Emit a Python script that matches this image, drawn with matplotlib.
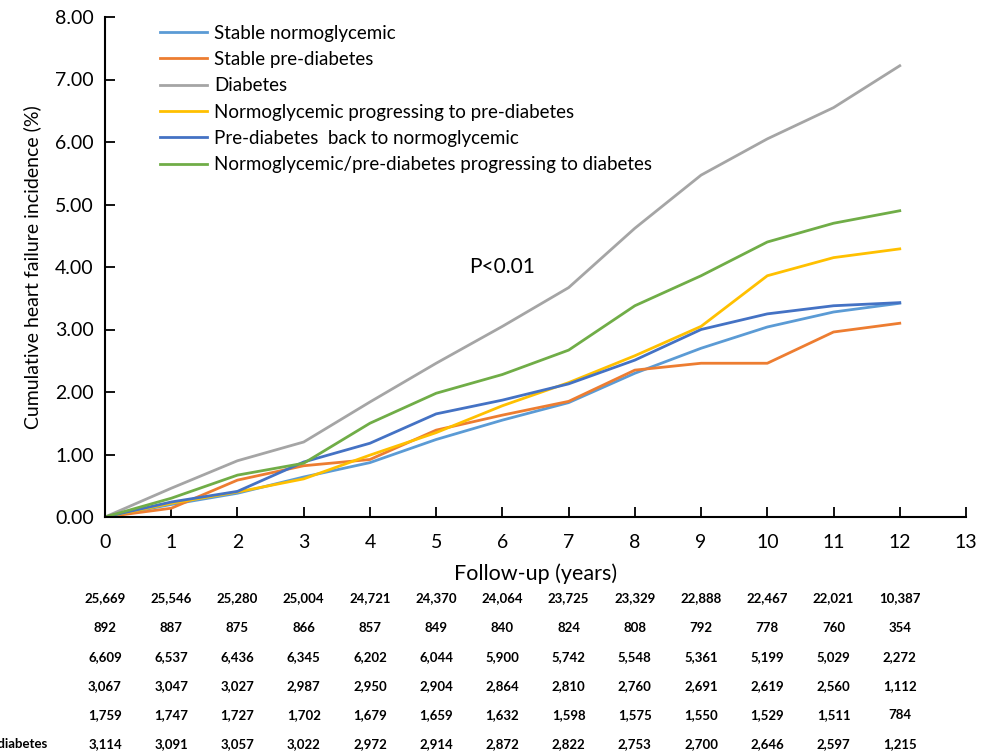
import numpy as np
import matplotlib
matplotlib.use("Agg")
from matplotlib import pyplot as plt
from matplotlib import transforms

plt.rcParams['font.family'] = ['Lato', 'DejaVu Sans']

years = list(range(13))
groups = ["Stable normoglycemic",
          "Stable pre-diabetes",
          "Diabetes",
          "Normoglycemic progressing to pre-diabetes",
          "Pre-diabetes  back to normoglycemic",
          "Normoglycemic/pre-diabetes progressing to diabetes"]
colors = ['#5B9BD5', '#ED7D31', '#A5A5A5', '#FFC000', '#4472C4', '#70AD47']

stable_normo = [0, 0.20, 0.38, 0.64, 0.87, 1.24, 1.55, 1.83, 2.30, 2.70, 3.04, 3.28, 3.42]
stable_pre = [0, 0.14, 0.59, 0.82, 0.92, 1.39, 1.63, 1.85, 2.35, 2.46, 2.46, 2.96, 3.10]
diabetes = [0, 0.46, 0.90, 1.20, 1.84, 2.46, 3.05, 3.67, 4.62, 5.47, 6.05, 6.55, 7.22]
normo_to_pre = [0, 0.22, 0.40, 0.61, 0.99, 1.35, 1.78, 2.15, 2.58, 3.05, 3.86, 4.15, 4.29]
pre_to_normo = [0, 0.24, 0.41, 0.88, 1.18, 1.65, 1.87, 2.13, 2.51, 3.00, 3.25, 3.38, 3.43]
to_diabetes = [0, 0.30, 0.67, 0.86, 1.50, 1.98, 2.28, 2.67, 3.38, 3.86, 4.40, 4.70, 4.90]
series = [stable_normo, stable_pre, diabetes, normo_to_pre, pre_to_normo, to_diabetes]

# numbers at risk
risk_normo = ["25,669", "25,546", "25,280", "25,004", "24,721", "24,370", "24,064",
              "23,725", "23,329", "22,888", "22,467", "22,021", "10,387"]
risk_pre = ["892", "887", "875", "866", "857", "849", "840", "824", "808", "792", "778", "760", "354"]
risk_diab = ["6,609", "6,537", "6,436", "6,345", "6,202", "6,044", "5,900",
             "5,742", "5,548", "5,361", "5,199", "5,029", "2,272"]
risk_normo_pre = ["3,067", "3,047", "3,027", "2,987", "2,950", "2,904", "2,864",
                  "2,810", "2,760", "2,691", "2,619", "2,560", "1,112"]
risk_pre_normo = ["1,759", "1,747", "1,727", "1,702", "1,679", "1,659", "1,632",
                  "1,598", "1,575", "1,550", "1,529", "1,511", "784"]
risk_to_diab = ["3,114", "3,091", "3,057", "3,022", "2,972", "2,914", "2,872",
                "2,822", "2,753", "2,700", "2,646", "2,597", "1,215"]
risk_rows = [risk_normo, risk_pre, risk_diab, risk_normo_pre, risk_pre_normo, risk_to_diab]

fig = plt.figure(figsize=(9.85, 7.56), dpi=100)
ax = fig.add_axes([105/985, 1 - 517/756, 861/985, 500/756])

for name, vals, c in zip(groups, series, colors):
    ax.plot(years, vals, color=c, lw=2.0, label=name)

ax.set_xlim(0, 13)
ax.set_ylim(0, 8)
ax.set_xticks(range(14))
ax.set_yticks(np.arange(0, 8.01, 1))
ax.set_yticklabels(['%.2f' % v for v in np.arange(0, 8.01, 1)])
ax.tick_params(direction='in', length=7, width=1.3, labelsize=14, colors='black')
ax.tick_params(axis='x', pad=12)
ax.tick_params(axis='y', pad=8)
for s in ['top', 'right']:
    ax.spines[s].set_visible(False)
for s in ['left', 'bottom']:
    ax.spines[s].set_linewidth(1.5)

ax.set_xlabel("Follow-up (years)", fontsize=15.5, labelpad=9)
ax.set_ylabel("Cumulative heart failure incidence (%)", fontsize=14, labelpad=10)
ax.text(6, 4.0, "P<0.01", fontsize=15, ha='center', va='center')

ax.legend(loc='upper left', bbox_to_anchor=(0.055, 1.0), frameon=False, fontsize=13.5,
          handlelength=2.5, handletextpad=0.4, labelspacing=0.5, borderaxespad=0)

# number-at-risk table
trans = transforms.blended_transform_factory(ax.transData, fig.transFigure)
row_y = [598, 628, 657, 686, 715, 744]
for row, yp in zip(risk_rows, row_y):
    for x, s in zip(years, row):
        ax.text(x, 1 - yp/756, s, transform=trans, ha='center', va='center',
                fontsize=9.5, fontweight='bold', clip_on=False)

# row label of the last group runs off the left edge, only its tail shows
fig.text(47/985, 1 - row_y[-1]/756, groups[-1], ha='right', va='center',
         fontsize=9.5, fontweight='bold')

fig.savefig("out.png", dpi=100)
